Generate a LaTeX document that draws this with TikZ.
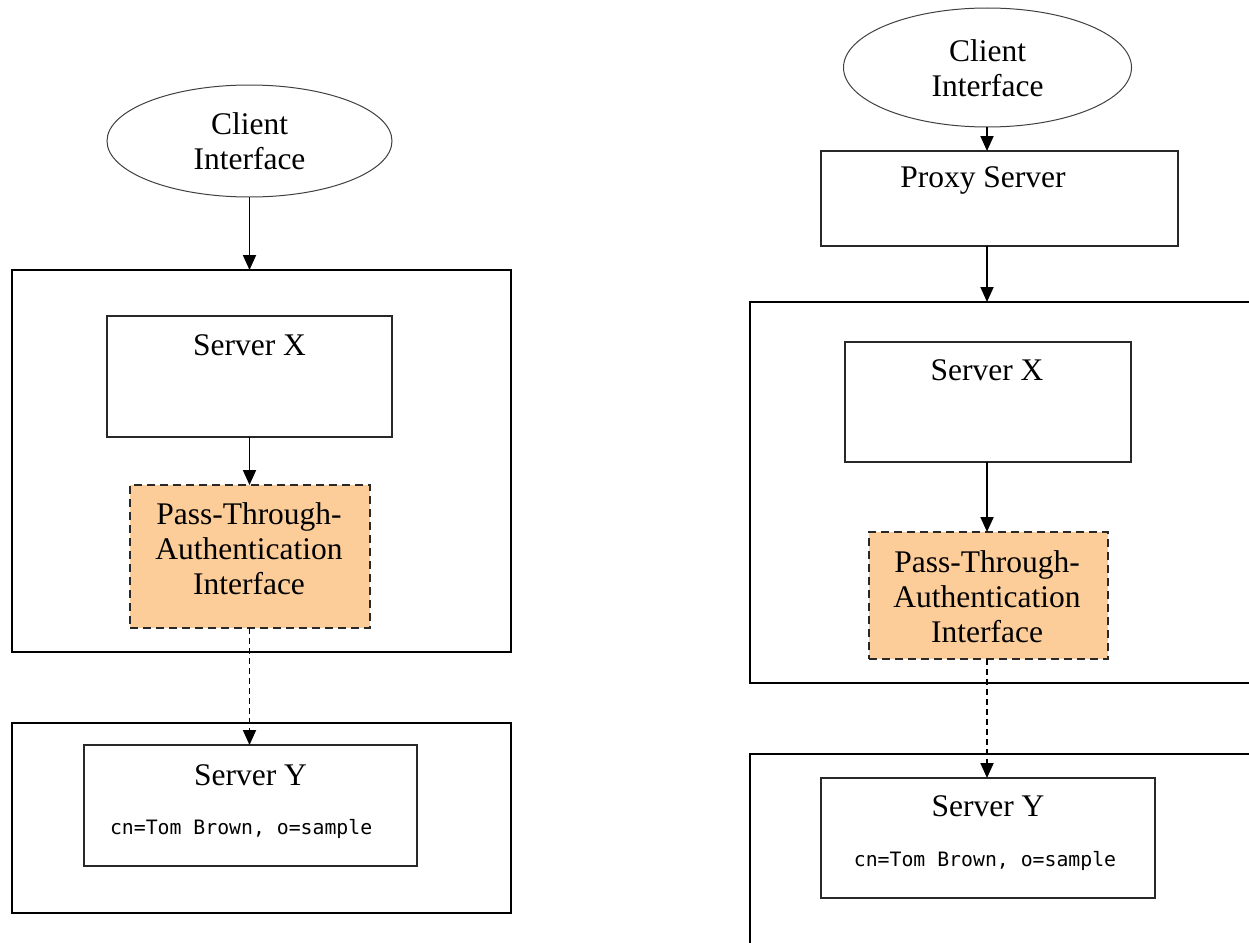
\documentclass[tikz,border=0pt]{standalone}
\usepackage{fontspec}
\setmainfont{Liberation Serif}
\newfontfamily\codefont{DejaVu Sans Mono}
\usetikzlibrary{shapes.geometric,arrows.meta}
\definecolor{ptaorange}{RGB}{252,204,153}
\definecolor{boxline}{RGB}{40,40,40}
\tikzset{
  x=1pt,y=-1pt,
  every node/.style={inner sep=0pt,outer sep=0pt},
  lbl/.style={font=\fontsize{31.5}{35}\selectfont,align=center},
  code/.style={font=\codefont\fontsize{19.8}{22}\selectfont},
  client/.style={ellipse,draw=black!75,line width=1pt,fill=white},
  box/.style={rectangle,draw=boxline,line width=1.6pt,fill=white},
  outerbox/.style={rectangle,draw=black,line width=1.8pt},
  ptabox/.style={rectangle,draw=boxline,line width=1.8pt,fill=ptaorange,dash pattern=on 8pt off 5pt},
  conn/.style={line width=1.8pt,-{Triangle[width=13pt,length=15pt]}},
  dconn/.style={conn,dash pattern=on 6pt off 4pt}
}
\begin{document}
\begin{tikzpicture}
\useasboundingbox (0,0) rectangle (1249,942);
\coordinate (lx) at (249.5,0);
\coordinate (rx) at (987,0);
% ---------- left diagram ----------
\node[client,minimum width=285pt,minimum height=112pt] (lclient) at (249.5,141) {};
\node[lbl] (lclientt) at (249.5,141) {Client\\Interface};
\node[outerbox,minimum width=499pt,minimum height=382pt] (louter1) at (261.5,461) {};
\node[box,minimum width=285pt,minimum height=121pt] (lsx) at (249.5,376.5) {};
\node[lbl] (lsxt) at (249.5,345) {Server X};
\node[ptabox,minimum width=240pt,minimum height=143pt] (lpta) at (250,556.5) {};
\node[lbl] (lptat) at (249,549) {Pass-Through-\\Authentication\\Interface};
\node[outerbox,minimum width=499pt,minimum height=190pt] (louter2) at (261.5,818) {};
\node[box,minimum width=333pt,minimum height=121pt] (lsy) at (250.5,805.5) {};
\node[lbl] (lsyt) at (250.5,775) {Server Y};
\node[code,anchor=west] (lsyc) at (110,829) {cn=Tom Brown, o=sample};
\draw[conn] (lclient.south -| lx) -- (louter1.north -| lx);
\draw[conn] (lsx.south -| lx) -- (lpta.north -| lx);
\draw[dconn] (lpta.south -| lx) -- (lsy.north -| lx);
% ---------- right diagram ----------
\node[client,minimum width=288pt,minimum height=119pt] (rclient) at (987.5,67.5) {};
\node[lbl] (rclientt) at (987.5,68) {Client\\Interface};
\node[box,minimum width=357pt,minimum height=95pt] (rproxy) at (999.5,198.5) {};
\node[lbl] (rproxyt) at (983,180) {Proxy Server};
\coordinate (ro1a) at (1252,302);
\coordinate (ro1b) at (750,302);
\coordinate (ro1c) at (750,683);
\coordinate (ro1d) at (1252,683);
\draw[line width=1.8pt] (ro1a) -- (ro1b) -- (ro1c) -- (ro1d);
\node[box,minimum width=286pt,minimum height=120pt] (rsx) at (988,402) {};
\node[lbl] (rsxt) at (987,370) {Server X};
\node[ptabox,minimum width=239pt,minimum height=127pt] (rpta) at (988.5,595.5) {};
\node[lbl] (rptat) at (987,597) {Pass-Through-\\Authentication\\Interface};
\coordinate (ro2a) at (1252,754);
\coordinate (ro2b) at (750,754);
\coordinate (ro2c) at (750,946);
\draw[line width=1.8pt] (ro2a) -- (ro2b) -- (ro2c);
\node[box,minimum width=334pt,minimum height=120pt] (rsy) at (988,838) {};
\node[lbl] (rsyt) at (988,806) {Server Y};
\node[code] (rsyc) at (985,861) {cn=Tom Brown, o=sample};
\draw[conn] (rclient.south -| rx) -- (rproxy.north -| rx);
\draw[conn] (rproxy.south -| rx) -- (ro1b -| rx);
\draw[conn] (rsx.south -| rx) -- (rpta.north -| rx);
\draw[dconn] (rpta.south -| rx) -- (rsy.north -| rx);
\end{tikzpicture}
\end{document}
